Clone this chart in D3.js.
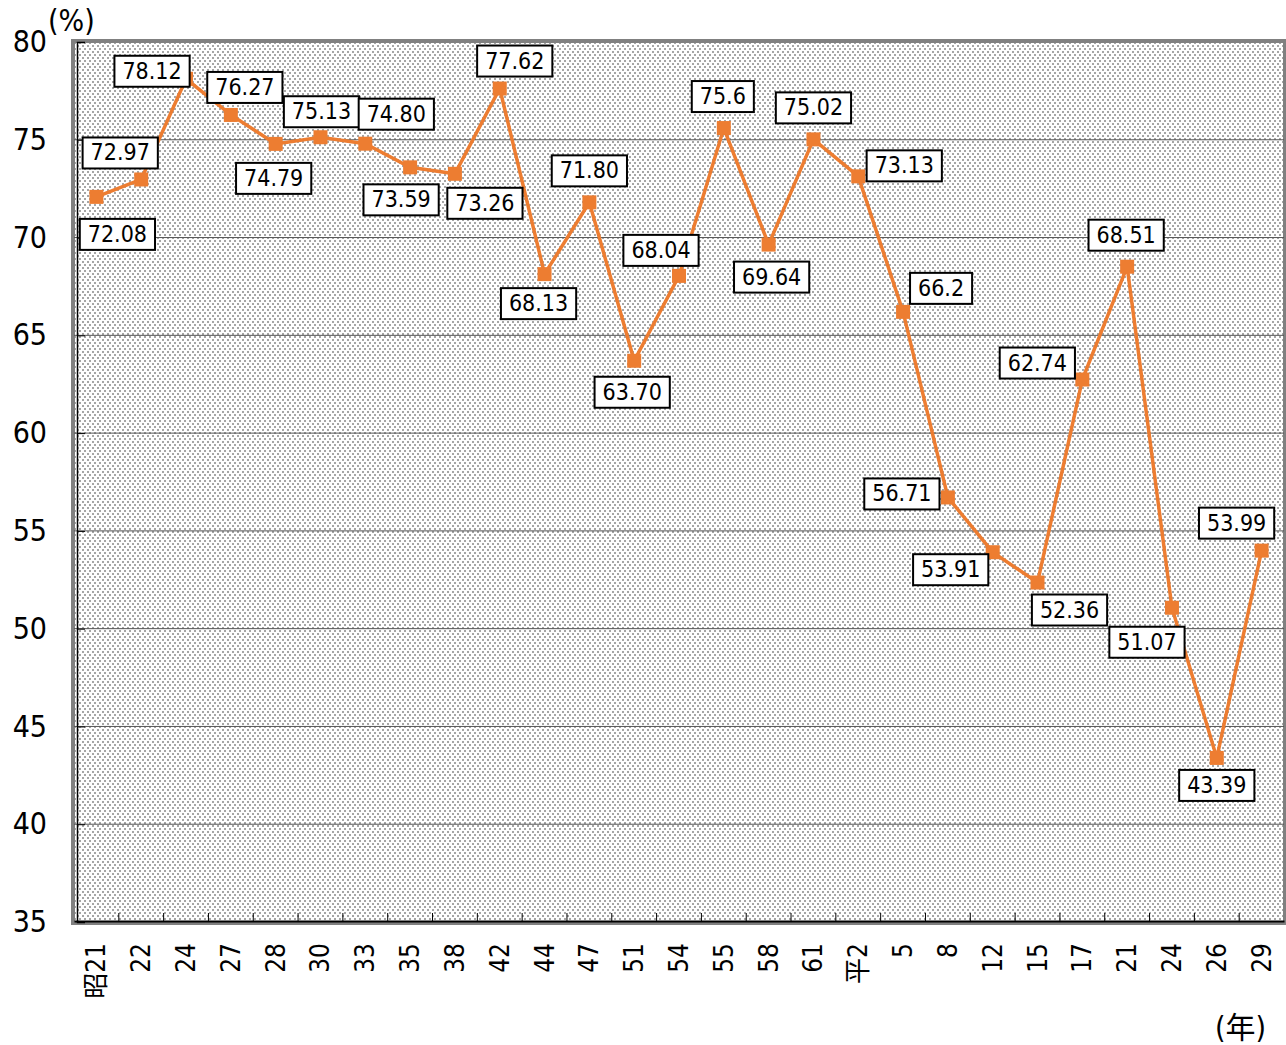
<!DOCTYPE html>
<html>
<head>
<meta charset="utf-8">
<script src="https://cdn.jsdelivr.net/npm/d3@7"></script>
<style>
  body { margin: 0; background: #fff; }
  text { font-family: "DejaVu Sans Condensed", "DejaVu Sans", "Noto Sans CJK JP", sans-serif; font-stretch: condensed; fill: #000; }
</style>
</head>
<body>
<svg id="chart" width="1286" height="1045"></svg>
<script>
// year labels (昭和 → 平成)
const years = ["昭21", "22", "24", "27", "28", "30", "33", "35", "38", "42", "44", "47", "51", "54",
  "55", "58", "61", "平2", "5", "8", "12", "15", "17", "21", "24", "26", "29"];
const rates = [72.08, 72.97, 78.12, 76.27, 74.79, 75.13, 74.80, 73.59, 73.26, 77.62, 68.13, 71.80, 63.70, 68.04,
  75.6, 69.64, 75.02, 73.13, 66.2, 56.71, 53.91, 52.36, 62.74, 68.51, 51.07, 43.39, 53.99];
const rateText = ["72.08", "72.97", "78.12", "76.27", "74.79", "75.13", "74.80", "73.59", "73.26", "77.62", "68.13",
  "71.80", "63.70", "68.04", "75.6", "69.64", "75.02", "73.13", "66.2", "56.71", "53.91", "52.36", "62.74",
  "68.51", "51.07", "43.39", "53.99"];
const yTicks = [35, 40, 45, 50, 55, 60, 65, 70, 75, 80];

// label box offsets from the point (dx, dy)
const labelOffsets = [[21, 37], [-21, -27], [-34, -8], [14, -28], [-2, 34], [1, -26], [31, -30], [-9, 32], [30, 29],
  [15, -28], [-6, 29], [0, -32], [-2, 31], [-18, -26], [-1, -32], [3, 32], [0, -32], [46, -11], [38, -24],
  [-46, -4], [-42, 17], [32, 27], [-45, -17], [-1, -32], [-25, 34], [0, 27], [-25, -28]];

const margin = { left: 74, top: 42, right: 2, bottom: 123 };
const W = 1286, H = 1045;
const iw = W - margin.left - margin.right;
const ih = H - margin.top - margin.bottom;

const svg = d3.select("#chart");

// dotted background
const defs = svg.append("defs");
const pat = defs.append("pattern").attr("id", "dots")
  .attr("patternUnits", "userSpaceOnUse").attr("width", 5).attr("height", 6);
pat.append("rect").attr("width", 5).attr("height", 6).attr("fill", "#fff");
pat.append("rect").attr("x", 0).attr("y", 0).attr("width", 2).attr("height", 2).attr("fill", "#a6a6a6");
pat.append("rect").attr("x", 3).attr("y", 3).attr("width", 2).attr("height", 2).attr("fill", "#a6a6a6");

const g = svg.append("g").attr("transform", `translate(${margin.left},${margin.top})`);

const x = d3.scaleBand().domain(d3.range(years.length)).range([0, iw]);
const y = d3.scaleLinear().domain([35, 80]).range([ih, 0]);

g.append("rect").attr("width", iw).attr("height", ih).attr("fill", "url(#dots)");

// gray frame
g.append("rect")
  .attr("x", -1).attr("y", -1)
  .attr("width", iw + 2).attr("height", ih + 2)
  .attr("fill", "none").attr("stroke", "#808080").attr("stroke-width", 4);

// gridlines
g.append("g").selectAll("line")
  .data(yTicks.filter(d => d > 35 && d < 80))
  .join("line")
  .attr("x1", 0).attr("x2", iw)
  .attr("y1", d => y(d)).attr("y2", d => y(d))
  .attr("stroke", "#555").attr("stroke-width", 1);

// y axis
const yAxis = g.append("g").attr("transform", "translate(3,0)")
  .call(d3.axisLeft(y).tickValues(yTicks).tickSize(-8).tickPadding(30));
yAxis.select(".domain").attr("stroke", "#000").attr("stroke-width", 1.5);
yAxis.selectAll(".tick line").attr("stroke", "#000");
yAxis.selectAll(".tick text").attr("font-size", 30).attr("font-family", null);

// x axis
const xAxis = g.append("g").attr("transform", `translate(0,${ih - 1})`)
  .call(d3.axisBottom(x).tickFormat(() => "").tickSize(0));
xAxis.select(".domain").attr("stroke", "#000").attr("stroke-width", 2);
xAxis.selectAll(".tick").remove();
xAxis.selectAll("line.sep")
  .data(d3.range(1, years.length))
  .join("line").attr("class", "sep")
  .attr("x1", i => x(i)).attr("x2", i => x(i))
  .attr("y1", 0).attr("y2", -8)
  .attr("stroke", "#000");

g.append("g").selectAll("text")
  .data(years)
  .join("text")
  .attr("transform", (d, i) => `translate(${x(i) + x.bandwidth() / 2},${ih + 21}) rotate(-90)`)
  .attr("text-anchor", "end")
  .attr("dominant-baseline", "central")
  .attr("font-size", 26)
  .text(d => d);

// line + markers
const pts = rates.map((v, i) => [x(i) + x.bandwidth() / 2, y(v)]);
g.append("path")
  .attr("d", d3.line()(pts))
  .attr("fill", "none").attr("stroke", "#ED7D31").attr("stroke-width", 3.5);
g.append("g").selectAll("rect")
  .data(pts)
  .join("rect")
  .attr("x", d => d[0] - 7).attr("y", d => d[1] - 7)
  .attr("width", 14).attr("height", 14)
  .attr("fill", "#ED7D31");

// value labels
const labels = g.append("g").selectAll("g")
  .data(rateText)
  .join("g")
  .attr("transform", (d, i) => `translate(${pts[i][0] + labelOffsets[i][0]},${pts[i][1] + labelOffsets[i][1]})`);
labels.append("text")
  .attr("text-anchor", "middle")
  .attr("dominant-baseline", "central")
  .attr("font-size", 23)
  .text(d => d);
labels.each(function () {
  const t = d3.select(this).select("text").node().getBBox();
  d3.select(this).insert("rect", "text")
    .attr("x", t.x - 8).attr("y", -15)
    .attr("width", t.width + 16).attr("height", 31)
    .attr("fill", "#fff").attr("stroke", "#000").attr("stroke-width", 2);
});

// units
svg.append("text").attr("x", 48).attr("y", 31).attr("font-size", 30).text("(%)");
svg.append("text").attr("x", 1215).attr("y", 1038).attr("font-size", 30).text("(年)");
</script>
</body>
</html>
